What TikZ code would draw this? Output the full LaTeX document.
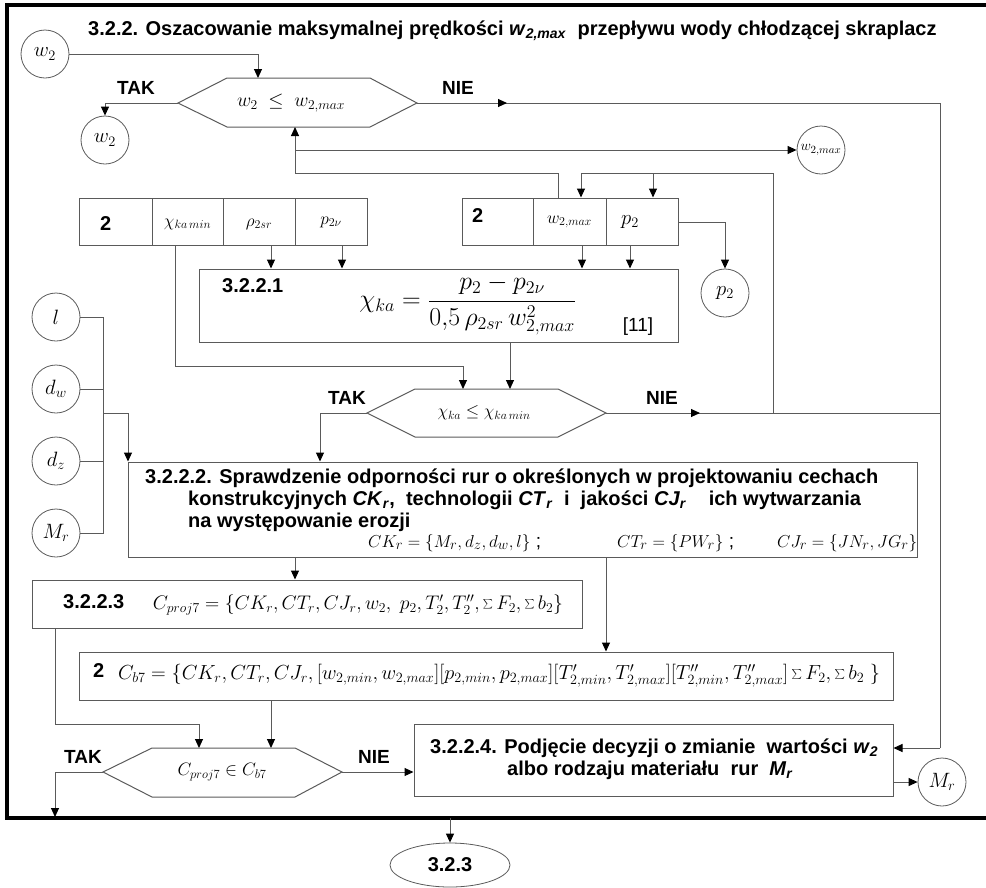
\documentclass[tikz,border=0pt]{standalone}
\usepackage{fontspec}
\usepackage{graphicx}
\setmainfont{Liberation Sans}
\usetikzlibrary{arrows.meta,shapes.geometric,calc}
\definecolor{lineg}{HTML}{5A5A5A}
\newcommand{\fz}[1]{\fontsize{#1}{#1}\selectfont}
\newcommand{\bisub}[2]{\textit{#1}\textsubscript{\textit{#2}}}
\begin{document}
\begin{tikzpicture}[x=1pt,y=-1pt,
  line/.style={draw=lineg, line width=1pt},
  arr/.style={line, -{Triangle[length=9pt,width=8pt,color=black]}},
  frame/.style={draw=black, line width=3.5pt},
  box/.style={draw=lineg, line width=1pt, inner sep=0pt},
  circ/.style={circle, draw=lineg, line width=0.8pt, minimum size=48pt, inner sep=0pt, font=\fz{20}},
  hexa/.style={draw=lineg, line width=1pt},
  lbl/.style={font=\bfseries\fz{19}, inner sep=0pt},
  btxt/.style={font=\bfseries\fz{20}, inner sep=0pt, anchor=base west},
  mtxt/.style={font=\fz{20}, inner sep=0pt}
]
\useasboundingbox (0,0) rectangle (986,887);
% frame
\draw[frame] (986,5) -- (7,5) -- (7,818) -- (986,818);
% title
\node[btxt] (title) at (88,35) {3.2.2. Oszacowanie maksymalnej prędkości \bisub{w}{2,max}\ \ przepływu wody chłodzącej skraplacz};

% ---------- hexagon 1
\coordinate (h1l) at (178,103); \coordinate (h1tl) at (227,78); \coordinate (h1tr) at (370,78);
\coordinate (h1r) at (417,103); \coordinate (h1br) at (370,127); \coordinate (h1bl) at (227,127);
\draw[hexa] (h1l)--(h1tl)--(h1tr)--(h1r)--(h1br)--(h1bl)--cycle;
\node[mtxt] (h1t) at (291,103) {\resizebox{108pt}{!}{$w_{2}\ \leq\ w_{2,max}$}};
\node[lbl] (tak1) at (136,88) {TAK};
\node[lbl] (nie1) at (458,88) {NIE};

\node[circ] (cw2a) at (45,54) {$w_2$};
\node[circ] (cw2b) at (105,140) {$w_2$};
\node[circ, font=\fz{15}] (cwmax) at (821,150) {$w_{2,max}$};

\coordinate (h1in) at (258,78);
\draw[arr] (cw2a.east) -| (h1in);
\draw[arr] (h1l) -| (cw2b.north);

% NIE 1 -> right bus
\coordinate (rr1) at (940,103); \coordinate (rr2) at (940,748);
\coordinate (m1) at (507,103);
\draw[line] (h1r) -- (rr1) -- (rr2);
\draw[arr] (h1r) -- (m1);

% ---------- box 1 (2 | chi | rho | p2v)
\node[box, minimum width=73pt, minimum height=47pt] (c1a) at (115.5,221.5) {};
\node[box, minimum width=71pt, minimum height=47pt] (c1b) at (187.5,221.5) {};
\node[box, minimum width=72pt, minimum height=47pt] (c1c) at (259,221.5) {};
\node[box, minimum width=72pt, minimum height=47pt] (c1d) at (331,221.5) {};
\node[btxt] (t1a) at (100,230) {2};
\node[mtxt, font=\fz{18}] (t1b) at (187.5,224) {$\chi_{ka\,min}$};
\node[mtxt, font=\fz{18}] (t1c) at (259,224) {$\rho_{2sr}$};
\node[mtxt, font=\fz{18}] (t1d) at (331,222) {$p_{2\nu}$};

% ---------- box 2 right (2 | w2max | p2)
\node[box, minimum width=71pt, minimum height=47pt] (c2a) at (497.5,221.5) {};
\node[box, minimum width=73pt, minimum height=47pt] (c2b) at (569.5,221.5) {};
\node[box, minimum width=72pt, minimum height=47pt] (c2c) at (642,221.5) {};
\node[btxt] (t2a) at (472,222) {2};
\node[mtxt, font=\fz{18}] (t2b) at (569.5,222) {$w_{2,max}$};
\node[mtxt, font=\fz{20}] (t2c) at (630,222) {$p_2$};

% ---------- box 3.2.2.1
\node[box, minimum width=479pt, minimum height=73pt] (f1) at (438.5,305.5) {};
\node[btxt] (f1l) at (222,292) {3.2.2.1};
\node[mtxt] (f1t) at (468,305) {\resizebox{217pt}{!}{$\chi_{ka} = \displaystyle\frac{p_2 - p_{2\nu}}{0{,}5\,\rho_{2sr}\,w^2_{2,max}}$}};
\node[mtxt, font=\fz{19}] (f1r) at (638,327) {[11]};

% arrows box1 -> f1
\coordinate (a1) at (271,245); \coordinate (a2) at (342,245);
\draw[arr] (a1) -- (a1 |- f1.north);
\draw[arr] (a2) -- (a2 |- f1.north);
% arrows box2 -> f1
\coordinate (a3) at (582,245); \coordinate (a4) at (630,245);
\draw[arr] (a3) -- (a3 |- f1.north);
\draw[arr] (a4) -- (a4 |- f1.north);

% p2 output
\node[circ] (cp2) at (725,293) {$p_2$};
\coordinate (p2o) at (678,222);
\draw[arr] (p2o) -| (cp2.north);

% feedback w2max -> hexagon 1
\coordinate (fbS) at (558,198); \coordinate (fbA) at (558,173); \coordinate (fbB) at (295,173);
\coordinate (fbE) at (295,127);
\draw[arr] (fbS) -- (fbA) -- (fbB) -- (fbE);
\coordinate (fbC) at (295,150);
\draw[arr] (fbC) -- (cwmax.west);

% ---------- hexagon 2
\coordinate (h2l) at (367,413); \coordinate (h2tl) at (415,389); \coordinate (h2tr) at (558,389);
\coordinate (h2r) at (606,413); \coordinate (h2br) at (558,437); \coordinate (h2bl) at (415,437);
\draw[hexa] (h2l)--(h2tl)--(h2tr)--(h2r)--(h2br)--(h2bl)--cycle;
\node[mtxt] (h2t) at (484,413) {\resizebox{93pt}{!}{$\chi_{ka}\leq\chi_{ka\,min}$}};
\node[lbl] (tak2) at (347,398) {TAK};
\node[lbl] (nie2) at (662,398) {NIE};

% chi min line
\coordinate (k1) at (175,245); \coordinate (k2) at (175,366); \coordinate (k3) at (463,366); \coordinate (k4) at (463,389);
\draw[arr] (k1) -- (k2) -- (k3) -- (k4);
% f1 -> hex2
\coordinate (f1o) at (510,342);
\draw[arr] (f1o) -- (f1o |- h2tl);

% NIE2
\coordinate (rr3) at (940,413); \coordinate (m2) at (700,413);
\draw[line] (h2r) -- (rr3);
\draw[arr] (h2r) -- (m2);
\coordinate (lp1) at (773,413); \coordinate (lp2) at (773,173); \coordinate (lp3) at (581,173); \coordinate (lp4) at (653,173);
\draw[line] (lp1) -- (lp2) -- (lp3);
\draw[arr] (lp3) -- (lp3 |- c2b.north);
\draw[arr] (lp4) -- (lp4 |- c2c.north);

% ---------- left circles
\node[circ] (cl) at (56,317) {$l$};
\node[circ] (cdw) at (56,389) {$d_w$};
\node[circ] (cdz) at (56,461) {$d_z$};
\node[circ] (cmr) at (56,533) {$M_r$};
\coordinate (bt) at (103,317); \coordinate (bb) at (103,533);
\draw[line] (cl.east) -- (bt) -- (bb) -- (cmr.east);
\draw[line] (cdw.east) -- (cdw.east -| bt);
\draw[line] (cdz.east) -- (cdz.east -| bt);
\coordinate (bj) at (103,413); \coordinate (bk) at (128,413);

% ---------- box 3.2.2.2
\node[box, minimum width=789pt, minimum height=95pt] (b2) at (522.5,509.5) {};
\draw[arr] (bj) -- (bk) -- (bk |- b2.north);
\coordinate (tk) at (320,413);
\draw[arr] (h2l) -- (tk) -- (tk |- b2.north);
\node[btxt] (b2l1) at (145,483) {3.2.2.2. Sprawdzenie odporności rur o określonych w projektowaniu cechach};
\node[btxt] (b2l2) at (188,505) {konstrukcyjnych \bisub{CK}{r},\ \ technologii \bisub{CT}{r}\ \ i\ \ jakości \bisub{CJ}{r}\ \ \ \ ich wytwarzania};
\node[btxt] (b2l3) at (188,527) {na występowanie erozji};
\node[mtxt, font=\fz{19}, anchor=base west] (b2m1) at (368,547) {$CK_r = \bigl\{M_r, d_z, d_w, l\bigr\}$\ ;};
\node[mtxt, font=\fz{19}, anchor=base west] (b2m2) at (617,547) {$CT_r = \bigl\{PW_r\bigr\}$\ ;};
\node[mtxt, font=\fz{19}, anchor=base west] (b2m3) at (777,547) {$CJ_r = \bigl\{JN_r, JG_r\bigr\}$};

% ---------- box 3.2.2.3
\node[box, minimum width=550pt, minimum height=48pt] (b3) at (307,604) {};
\coordinate (d1) at (295,557);
\draw[arr] (d1) -- (d1 |- b3.north);
\node[btxt] (b3l) at (63,608) {3.2.2.3};
\node[mtxt] (b3m) at (358,605) {\resizebox{410pt}{!}{$C_{proj7} = \Bigl\{CK_r, CT_r, CJ_r, w_2,\ p_2, T'_2, T''_2, \textstyle\sum F_2, \sum b_2\Bigr\}$}};

% ---------- box C_b7
\node[box, minimum width=814pt, minimum height=48pt] (b4) at (486,676) {};
\coordinate (d2) at (606,557);
\draw[arr] (d2) -- (d2 |- b4.north);
\node[btxt] (b4l) at (93,677) {2};
\node[mtxt] (b4m) at (499,676) {\resizebox{762pt}{!}{$C_{b7} = \Bigl\{CK_r, CT_r, CJ_r, \Bigl[w_{2,min}, w_{2,max}\Bigr]\Bigl[p_{2,min}, p_{2,max}\Bigr]\Bigl[T'_{2,min}, T'_{2,max}\Bigr]\Bigl[T''_{2,min}, T''_{2,max}\Bigr]\textstyle\sum F_2, \sum b_2\ \Bigr\}$}};

% ---------- hexagon 3
\coordinate (h3l) at (103,772); \coordinate (h3tl) at (152,748); \coordinate (h3tr) at (295,748);
\coordinate (h3r) at (342,772); \coordinate (h3br) at (295,797); \coordinate (h3bl) at (152,797);
\draw[hexa] (h3l)--(h3tl)--(h3tr)--(h3r)--(h3br)--(h3bl)--cycle;
\node[mtxt] (h3t) at (222,772) {\resizebox{89pt}{!}{$C_{proj7}\in C_{b7}$}};
\node[lbl] (tak3) at (83,757) {TAK};
\node[lbl] (nie3) at (374,757) {NIE};

\coordinate (g1) at (55,628); \coordinate (g2) at (55,724); \coordinate (g3) at (199,724);
\draw[arr] (g1) -- (g2) -- (g3) -- (g3 |- h3tl);
\coordinate (g4) at (271,700);
\draw[arr] (g4) -- (g4 |- h3tl);
\coordinate (g5) at (55,772); \coordinate (g6) at (55,817);
\draw[arr] (h3l) -- (g5) -- (g6);

% ---------- box 3.2.2.4
\node[box, minimum width=479pt, minimum height=72pt] (b5) at (653.5,760) {};
\draw[arr] (h3r) -- (h3r -| b5.west);
\draw[arr] (rr2) -- (rr2 -| b5.east);
\node[btxt] (b5l1) at (430,753) {3.2.2.4. Podjęcie decyzji o zmianie\ \ wartości \bisub{w}{2}};
\node[btxt] (b5l2) at (507,775) {albo rodzaju materiału\ \ rur\ \ \bisub{M}{r}};
\node[circ] (cmr2) at (942,782) {$M_r$};
\coordinate (mo) at (893,782);
\draw[arr] (mo) -- (cmr2.west);

% ---------- exit
\node[ellipse, draw=lineg, line width=0.8pt, minimum width=120pt, minimum height=44pt, font=\bfseries\fz{20}, inner sep=0pt] (e3) at (450,865) {3.2.3};
\coordinate (ex) at (450,818);
\draw[arr] (ex) -- (e3.north);
\end{tikzpicture}
\end{document}
